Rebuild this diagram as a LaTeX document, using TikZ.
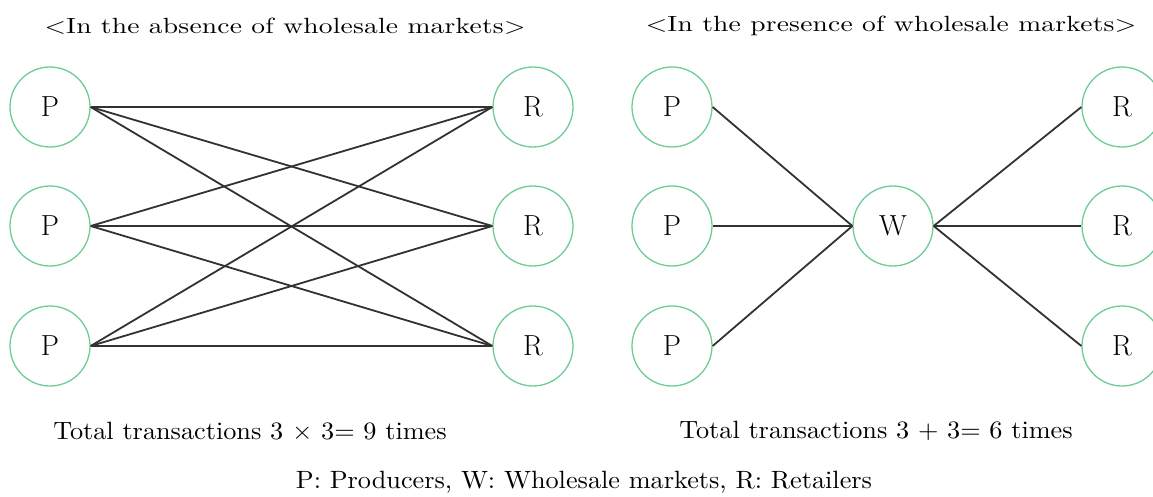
\documentclass[tikz,border=0pt]{standalone}
\usepackage{fontspec}
\usepackage{tikz}
\usetikzlibrary{positioning}

\newfontfamily\titlefont{lmroman10-regular.otf}[FakeStretch=1.25,LetterSpace=1]
\newfontfamily\notefont{lmroman10-regular.otf}[FakeStretch=1.05]

\definecolor{ringgreen}{RGB}{110,205,150}
\definecolor{linkgray}{RGB}{50,50,50}

\tikzset{
  party/.style={circle,draw=ringgreen,line width=1.3pt,fill=white,minimum size=80pt,inner sep=0pt,font=\fontsize{29}{32}\selectfont},
  heading/.style={font=\titlefont\fontsize{22}{26}\selectfont,inner sep=0pt},
  caption/.style={font=\notefont\fontsize{25}{29}\selectfont,inner sep=0pt},
  link/.style={draw=linkgray,line width=1.8pt}
}

\begin{document}
\begin{tikzpicture}[x=1pt,y=-1pt]
            \useasboundingbox (0,0) rectangle (1153,497);

            \node [heading] (lefttitle) at (285,26) {<In the absence of wholesale markets>};
            \node [heading] (righttitle) at (891,26) {<In the presence of wholesale markets>};

            \node [party] (p1) at (50,107) {P};
            \node [party] (p2) at (50,226) {P};
            \node [party] (p3) at (50,346) {P};
            \node [party] (r1) at (533,107) {R};
            \node [party] (r2) at (533,226) {R};
            \node [party] (r3) at (533,346) {R};

            \node [party] (q1) at (672,107) {P};
            \node [party] (q2) at (672,226) {P};
            \node [party] (q3) at (672,346) {P};
            \node [party] (w) at (893,226) {W};
            \node [party] (s1) at (1122,107) {R};
            \node [party] (s2) at (1122,226) {R};
            \node [party] (s3) at (1122,346) {R};

            \path[link]
            (p1.east) edge (r1.west)
            (p1.east) edge (r2.west)
            (p1.east) edge (r3.west)
            (p2.east) edge (r1.west)
            (p2.east) edge (r2.west)
            (p2.east) edge (r3.west)
            (p3.east) edge (r1.west)
            (p3.east) edge (r2.west)
            (p3.east) edge (r3.west)
            ;

            \path[link]
            (q1.east) edge (w.west)
            (q2.east) edge (w.west)
            (q3.east) edge (w.west)
            (w.east) edge (s1.west)
            (w.east) edge (s2.west)
            (w.east) edge (s3.west)
            ;

            \node [caption] (lefttotal) at (250,431) {Total transactions 3 × 3= 9 times};
            \node [caption] (righttotal) at (876,431) {Total transactions 3 + 3= 6 times};
            \node [caption] (legend) at (584,482) {P: Producers, W: Wholesale markets, R: Retailers};

\end{tikzpicture}
\end{document}
